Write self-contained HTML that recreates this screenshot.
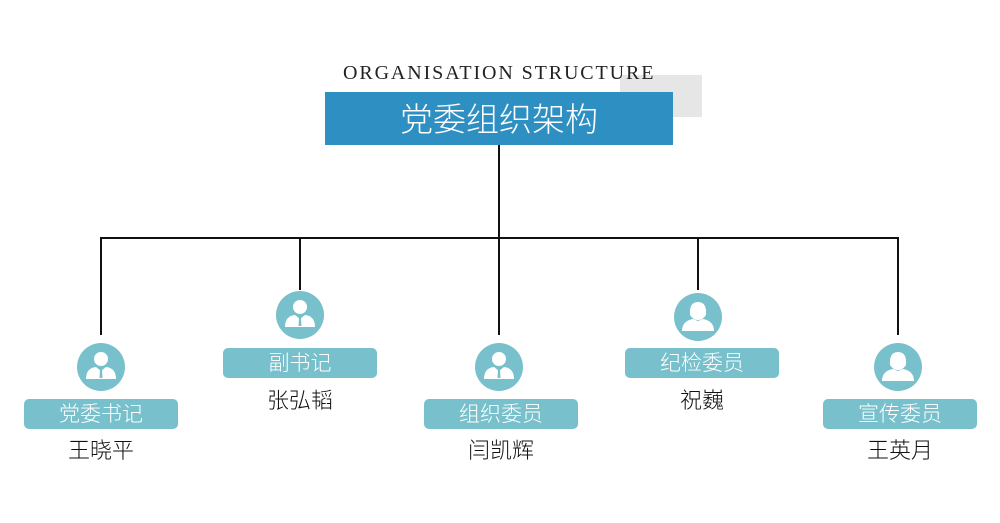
<!DOCTYPE html>
<html><head><meta charset="utf-8"><style>
body{margin:0;width:1000px;height:523px;background:#fff;position:relative;overflow:hidden;font-family:"Liberation Sans","Noto Sans CJK SC",sans-serif}
.a{position:absolute}
.lbl{position:absolute;background:#78c0cb;border-radius:5px;color:#fff;font-size:21px;text-align:center;line-height:32px;height:30px;width:154px;font-weight:300}
.nm{position:absolute;width:154px;text-align:center;font-size:22px;color:#111;font-weight:300}
.l{position:absolute;background:#111}
</style></head><body>
<div class="a" style="left:620px;top:75px;width:82px;height:42px;background:#e6e6e6"></div>
<div class="a" style="left:325px;top:92px;width:348px;height:53px;background:#2e8fc2;color:#fff;font-size:33px;text-align:center;line-height:55px;font-weight:300">党委组织架构</div>
<div class="a" style="left:343px;top:62px;width:330px;font-family:'Liberation Serif',serif;font-size:20px;color:#222;letter-spacing:1.9px;white-space:nowrap">ORGANISATION STRUCTURE</div>
<div class="l" style="left:498px;top:145px;width:2px;height:190px"></div>
<div class="l" style="left:100px;top:237px;width:799px;height:2px"></div>
<div class="l" style="left:100px;top:237px;width:2px;height:98px"></div>
<div class="l" style="left:299px;top:237px;width:2px;height:53px"></div>
<div class="l" style="left:697px;top:237px;width:2px;height:53px"></div>
<div class="l" style="left:897px;top:237px;width:2px;height:98px"></div>
<svg class="a" style="left:0;top:0" width="1000" height="523">
<defs>
<g id="m"><circle r="24" fill="#78c0cb"/><circle cx="0" cy="-8" r="7" fill="#fff"/><path d="M-15 12 Q-15 1 -5 0 L0 4 L5 0 Q15 1 15 12 Z" fill="#fff"/><path d="M-1 3 L1 3 L1.5 11 L-1.5 11Z" fill="#78c0cb"/></g>
<g id="f"><circle r="24" fill="#78c0cb"/><path d="M-8 -2 Q-9 -15 0 -15 Q9 -15 8 -2 Q5 3 0 3 Q-5 3 -8 -2Z" fill="#fff"/><path d="M-16 14 Q-16 4 -5 2 L0 4 L5 2 Q16 4 16 14Z" fill="#fff"/></g>
</defs>
<use href="#m" x="101" y="367"/><use href="#m" x="300" y="315"/><use href="#m" x="499" y="367"/>
<use href="#f" x="698" y="317"/><use href="#f" x="898" y="367"/>
</svg>
<div class="lbl" style="left:24px;top:399px">党委书记</div><div class="nm" style="left:24px;top:433px">王晓平</div>
<div class="lbl" style="left:223px;top:348px">副书记</div><div class="nm" style="left:223px;top:383px">张弘韬</div>
<div class="lbl" style="left:424px;top:399px">组织委员</div><div class="nm" style="left:424px;top:433px">闫凯辉</div>
<div class="lbl" style="left:625px;top:348px">纪检委员</div><div class="nm" style="left:625px;top:383px">祝巍</div>
<div class="lbl" style="left:823px;top:399px">宣传委员</div><div class="nm" style="left:823px;top:433px">王英月</div>
</body></html>
